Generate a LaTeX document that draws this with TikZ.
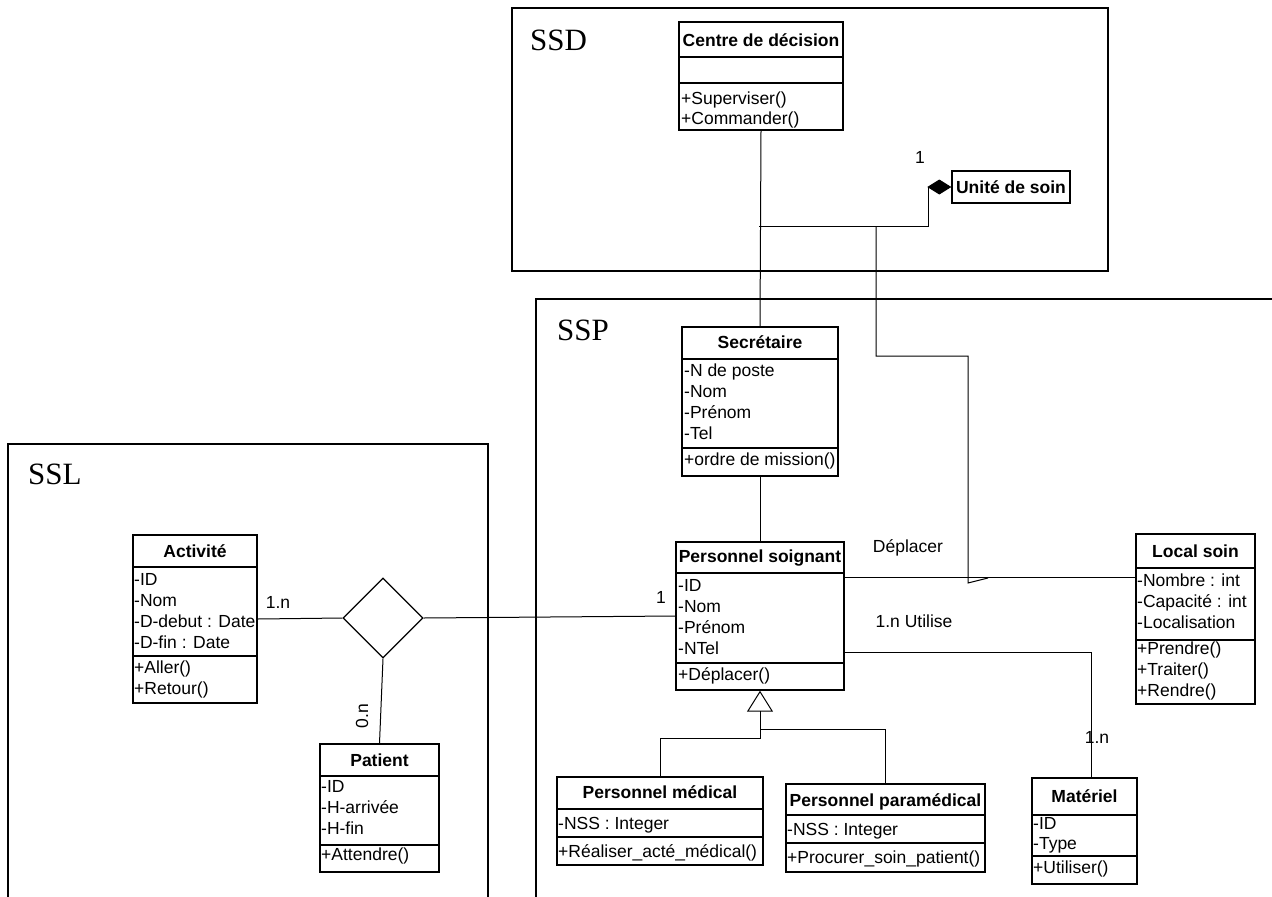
\documentclass[tikz,border=0pt]{standalone}
\usepackage{fontspec}
\setmainfont{Liberation Sans}
\newfontfamily\pkgfont{Liberation Serif}
\usetikzlibrary{shapes.geometric,arrows.meta,fit,calc}
\newcommand\fs{\fontsize{17.5}{21}\selectfont}
\begin{document}
\begin{tikzpicture}[x=1pt,y=-1pt,
  cls/.style={draw, line width=1.4pt, inner sep=0pt, fit={#1}},
  sepl/.style={line width=1.3pt},
  ttl/.style={font=\fs\bfseries, anchor=base, inner sep=0pt},
  txt/.style={font=\fs, anchor=base west, inner sep=0pt},
  lbl/.style={font=\fs, inner sep=0pt},
  pkg/.style={line width=2.2pt},
  pkglbl/.style={font=\pkgfont\fontsize{31}{36}\selectfont, anchor=base west, inner sep=0pt},
  conn/.style={line width=1pt}]
\useasboundingbox (0,0) rectangle (1272,897);

% packages
\draw[pkg] (512,8) rectangle (1108,271);
\draw[pkg] (1280,299) -- (536,299) -- (536,905);
\draw[pkg] (8,905) -- (8,444) -- (488,444) -- (488,905);
\node[pkglbl] (lssd) at (530,50) {SSD};
\node[pkglbl] (lssp) at (557,340) {SSP};
\node[pkglbl] (lssl) at (28,484) {SSL};

% Centre de decision
\node[cls={(679,22) (843,130)}] (cd) {};
\draw[sepl] (679,57) -- (843,57);
\draw[sepl] (679,83) -- (843,83);
\node[ttl] at (761,46) {Centre de décision};
\foreach \t [count=\i from 0] in {+Superviser(),+Commander()}
  \node[txt] at (681,104+20*\i) {\t};

% Unite de soin
\node[cls={(952,171) (1070,203)}] (us) {};
\node[ttl] at (1011,193) {Unité de soin};

% Secretaire
\node[cls={(682,327) (838,476)}] (sec) {};
\draw[sepl] (682,359) -- (838,359);
\draw[sepl] (682,448) -- (838,448);
\node[ttl] at (760,348) {Secrétaire};
\foreach \t [count=\i from 0] in {-N de poste,-Nom,-Prénom,-Tel}
  \node[txt] at (684,376+21*\i) {\t};
\node[txt] at (684,465) {+ordre de mission()};

% Personnel soignant
\node[cls={(676,542) (844,690)}] (ps) {};
\draw[sepl] (676,573) -- (844,573);
\draw[sepl] (676,663) -- (844,663);
\node[ttl] at (760,562) {Personnel soignant};
\foreach \t [count=\i from 0] in {-ID,-Nom,-Prénom,-NTel}
  \node[txt] at (678,591+21*\i) {\t};
\node[txt] at (678,680) {+Déplacer()};

% Local soin
\node[cls={(1136,534) (1255,704)}] (ls) {};
\draw[sepl] (1136,568) -- (1255,568);
\draw[sepl] (1136,640) -- (1255,640);
\node[ttl] at (1195.5,557) {Local soin};
\foreach \t [count=\i from 0] in {-Nombre : int,-Capacité : int,-Localisation}
  \node[txt] at (1137,586+21*\i) {\t};
\foreach \t [count=\i from 0] in {+Prendre(),+Traiter(),+Rendre()}
  \node[txt] at (1137,654+21*\i) {\t};

% Materiel
\node[cls={(1032,778) (1137,884)}] (mat) {};
\draw[sepl] (1032,815) -- (1137,815);
\draw[sepl] (1032,856) -- (1137,856);
\node[ttl] at (1084.5,802) {Matériel};
\foreach \t [count=\i from 0] in {-ID,-Type}
  \node[txt] at (1033,829+20*\i) {\t};
\node[txt] at (1033,873) {+Utiliser()};

% Personnel medical
\node[cls={(557,777) (763,865)}] (pm) {};
\draw[sepl] (557,809) -- (763,809);
\draw[sepl] (557,837) -- (763,837);
\node[ttl] at (660,798) {Personnel médical};
\node[txt] at (558,829) {-NSS : Integer};
\node[txt] at (558,857) {+Réaliser\_acté\_médical()};

% Personnel paramedical
\node[cls={(786,784) (985,872)}] (pp) {};
\draw[sepl] (786,815) -- (985,815);
\draw[sepl] (786,843) -- (985,843);
\node[ttl] at (885.5,806) {Personnel paramédical};
\node[txt] at (787,835) {-NSS : Integer};
\node[txt] at (787,863) {+Procurer\_soin\_patient()};

% Activite
\node[cls={(133,535) (257,703)}] (act) {};
\draw[sepl] (133,567) -- (257,567);
\draw[sepl] (133,656) -- (257,656);
\node[ttl] at (195,557) {Activité};
\foreach \t [count=\i from 0] in {-ID,-Nom,-D-debut : Date,-D-fin : Date}
  \node[txt] at (134,585+21*\i) {\t};
\foreach \t [count=\i from 0] in {+Aller(),+Retour()}
  \node[txt] at (134,673+21*\i) {\t};

% Patient
\node[cls={(320,744) (439,872)}] (pat) {};
\draw[sepl] (320,776) -- (439,776);
\draw[sepl] (320,845) -- (439,845);
\node[ttl] at (379.5,766) {Patient};
\foreach \t [count=\i from 0] in {-ID,-H-arrivée,-H-fin}
  \node[txt] at (321,792+21*\i) {\t};
\node[txt] at (321,860) {+Attendre()};

% association diamond
\node[draw, diamond, line width=1.3pt, minimum width=80pt, minimum height=80pt, inner sep=0pt] (dia) at (383,618) {};

% connectors
\draw[conn] (cd.south) -- (sec.north);
\draw[conn] (sec.south) -- (ps.north);
\coordinate (j1) at (759,226);
\coordinate (j2) at (876,226);
\draw[conn, -{Diamond[fill=black, length=24pt, width=15pt]}] (j1) -- (928,226) -- (928,187) -- (us.west);
\coordinate (k1) at (968,583);
\coordinate (k2) at (988,578);
\draw[conn] (j2) |- (968,356) -- (k1) -- (k2);
\draw[conn] ($(ps.north east)+(0,36)$) -- ($(ls.north west)+(0,44)$);
\draw[conn] ($(ps.north east)+(0,111)$) -| ($(mat.north)+(7,0)$);
\coordinate (gj) at (760,738);
\coordinate (gk) at (760,729);
\draw[conn, -{Triangle[open, length=21pt, width=26pt]}] (pm.north) |- (gj) -- (ps.south);
\draw[conn] (pp.north) |- (gk);
\draw[conn] (act.east) -- (dia.west);
\draw[conn] (dia.east) -- (ps.west);
\draw[conn] (dia.south) -- (pat.north);

% labels
\node[lbl] (l1) at (920,157) {1};
\node[lbl] (l2) at (278,602) {1.n};
\node[lbl, rotate=90] (l3) at (362,716) {0.n};
\node[lbl] (l4) at (661,597) {1};
\node[lbl] (l5) at (908,548) {Déplacer};
\node[lbl] (l6) at (914,621) {1.n Utilise};
\node[lbl] (l7) at (1097,737) {1.n};
\end{tikzpicture}
\end{document}
